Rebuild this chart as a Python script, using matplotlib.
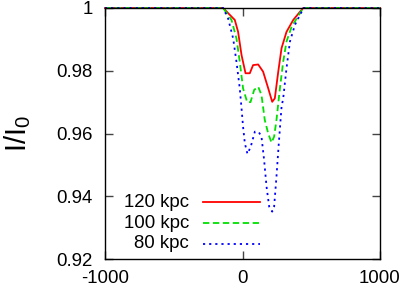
import matplotlib
matplotlib.use('Agg')
import matplotlib.pyplot as plt

# curve samples (velocity, I/I0)
x_120 = [-1000, -141, -92, -56, -32, -7, 22, 53, 77, 114, 150, 187, 216, 235, 260, 284, 320, 369, 441, 1000]
y_120 = [1.0, 1.0, 0.9978, 0.9962, 0.9924, 0.985, 0.9792, 0.9792, 0.9818, 0.982, 0.9797, 0.9744, 0.9701, 0.9712,
         0.9797, 0.9872, 0.9924, 0.9962, 1.0, 1.0]

x_100 = [-1000, -141, -80, -44, -20, 4, 34, 58, 85, 114, 138, 162, 187, 211, 230, 247, 272, 296, 320, 357, 417, 441, 1000]
y_100 = [1.0, 1.0, 0.9962, 0.9903, 0.9829, 0.9744, 0.970, 0.970, 0.9739, 0.9749, 0.9723, 0.9643, 0.960, 0.9571,
         0.959, 0.9643, 0.9744, 0.9829, 0.9893, 0.994, 0.9983, 1.0, 1.0]

x_80 = [-1000, -141, -105, -68, -44, -20, -7, 4, 17, 36, 60, 90, 119, 138, 157, 175, 194, 216, 230, 247, 264, 284,
        296, 320, 345, 381, 430, 441, 1000]
y_80 = [1.0, 1.0, 0.9967, 0.9903, 0.9829, 0.9744, 0.968, 0.9622, 0.9569, 0.9535, 0.9558, 0.9606, 0.9604, 0.959,
        0.9516, 0.943, 0.9367, 0.9351, 0.9367, 0.9462, 0.9569, 0.9685, 0.9712, 0.9808, 0.9893, 0.9946, 0.9988, 1.0, 1.0]

labels = ['120 kpc', '100 kpc', '80 kpc']
yticks = [0.92, 0.94, 0.96, 0.98, 1.0]
ytick_labels = ['0.92', '0.94', '0.96', '0.98', '1']
xticks = [-1000, 0, 1000]

plt.rcParams['font.family'] = ['Liberation Sans', 'DejaVu Sans']
plt.rcParams['mathtext.default'] = 'regular'

fig = plt.figure(figsize=(4.07, 2.89), dpi=100)
ax = fig.add_axes([105 / 407, 1 - 259 / 289, 275 / 407, 251 / 289])

styles = [dict(color='#ff0000'),
          dict(color='#00e000', dashes=(3.5, 2)),
          dict(color='#0000ff', dashes=(1.2, 2.2))]

for xs, ys, st in zip([x_120, x_100, x_80], [y_120, y_100, y_80], styles):
    ax.plot(xs, ys, lw=1.3, clip_on=False, **st)

ax.set_xlim(-1000, 1000)
ax.set_ylim(0.92, 1.0)
ax.set_xticks(xticks)
ax.set_xticklabels([str(t) for t in xticks])
ax.set_yticks(yticks)
ax.set_yticklabels(ytick_labels)
ax.tick_params(direction='in', length=6, width=1, top=True, right=True, labelsize=13.4, color='#444444')
ax.tick_params(axis='y', pad=9)
ax.tick_params(axis='x', pad=8)
for s in ax.spines.values():
    s.set_linewidth(1)

ax.set_ylabel('I/I$_0$', fontsize=21)
ax.yaxis.set_label_coords(-0.262, 0.5)

# gnuplot-style key: right-aligned text, sample line to the right
rows = [0.227, 0.143, 0.06]
for lab, yy, st in zip(labels, rows, styles):
    ax.text(0.305, yy, lab, transform=ax.transAxes, ha='right', va='center', fontsize=13.4)
    ax.plot([0.356, 0.564], [yy, yy], transform=ax.transAxes, lw=1.3, **st)

fig.savefig('out.png', dpi=100)
